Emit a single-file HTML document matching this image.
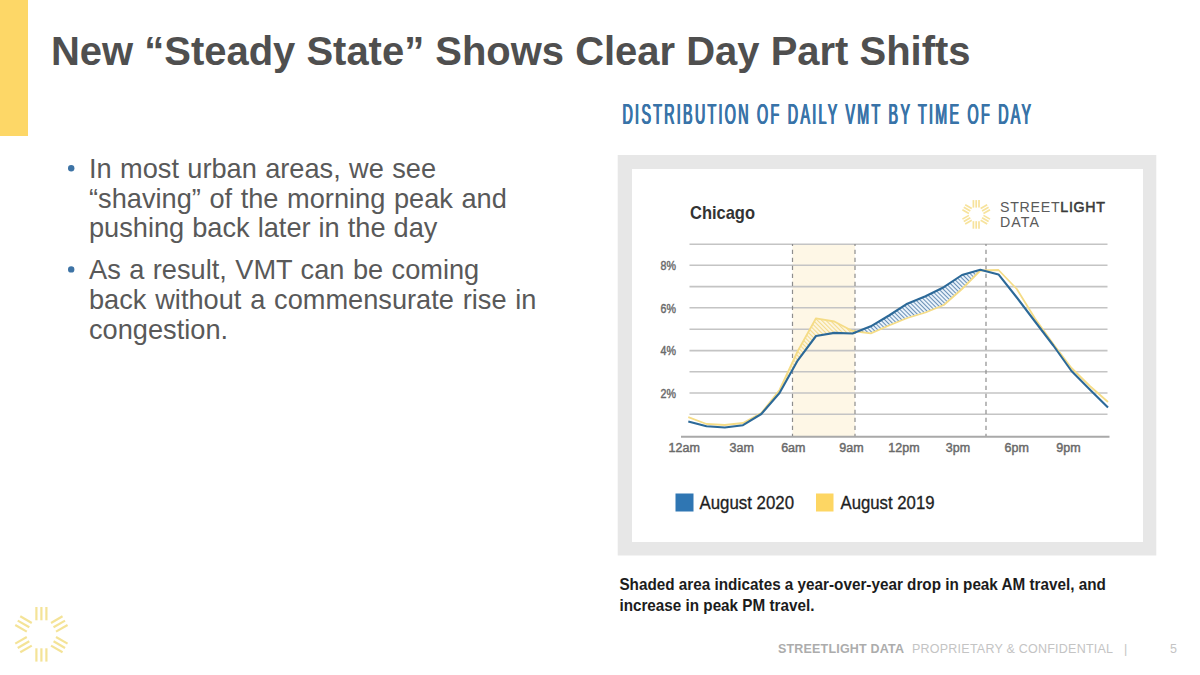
<!DOCTYPE html>
<html><head><meta charset="utf-8">
<style>
html,body{margin:0;padding:0;background:#fff;}
body{width:1200px;height:675px;overflow:hidden;position:relative;}
svg{position:absolute;left:0;top:0;}
text{font-family:"Liberation Sans", sans-serif;}
</style></head><body>
<svg width="1200" height="675" viewBox="0 0 1200 675">
<defs>
<pattern id="hb" patternUnits="userSpaceOnUse" width="3" height="3" patternTransform="rotate(-45)">
<rect width="3" height="3" fill="#eaf3fb"/><line x1="0.5" y1="0" x2="0.5" y2="3" stroke="#6a90b6" stroke-width="1.0"/>
</pattern>
<pattern id="hy" patternUnits="userSpaceOnUse" width="3" height="3" patternTransform="rotate(-45)">
<rect width="3" height="3" fill="#fdf6e0"/><line x1="0.5" y1="0" x2="0.5" y2="3" stroke="#f3da8c" stroke-width="1.1"/>
</pattern>
</defs>
<!-- left yellow bar -->
<rect x="0" y="0" width="28" height="136" fill="#fdd767"/>
<!-- title -->
<text x="51" y="64.8" font-size="41.3" font-weight="bold" fill="#4f4f4f" textLength="919.5" lengthAdjust="spacingAndGlyphs">New “Steady State” Shows Clear Day Part Shifts</text>
<!-- bullets -->
<g fill="#595959" font-size="27.2">
<circle cx="71.2" cy="168.2" r="3.2" fill="#3d73a5"/>
<text x="89" y="178" word-spacing="0.8">In most urban areas, we see</text>
<text x="89" y="207.5" word-spacing="1.05">“shaving” of the morning peak and</text>
<text x="89" y="236.8" word-spacing="0.45">pushing back later in the day</text>
<circle cx="71.2" cy="269.4" r="3.2" fill="#3d73a5"/>
<text x="89" y="279" word-spacing="0.9">As a result, VMT can be coming</text>
<text x="89" y="308.5" word-spacing="1.25">back without a commensurate rise in</text>
<text x="89" y="338.8">congestion.</text>
</g>
<!-- section heading -->
<text transform="translate(622.00,124.4) scale(0.47,1)" font-size="30.3" fill="#3873a8" letter-spacing="4.95">DISTRIBUTION OF DAILY VMT BY TIME OF DAY</text><text transform="translate(622.50,124.4) scale(0.47,1)" font-size="30.3" fill="#3873a8" letter-spacing="4.95">DISTRIBUTION OF DAILY VMT BY TIME OF DAY</text><text transform="translate(623.00,124.4) scale(0.47,1)" font-size="30.3" fill="#3873a8" letter-spacing="4.95">DISTRIBUTION OF DAILY VMT BY TIME OF DAY</text>
<!-- chart frame -->
<rect x="617.7" y="155" width="538.6" height="400.5" fill="#e7e7e7"/>
<rect x="632" y="169" width="511" height="373" fill="#ffffff"/>
<text x="690" y="219.3" font-size="18.5" font-weight="bold" fill="#333333" textLength="65" lengthAdjust="spacingAndGlyphs">Chicago</text>
<g stroke="#f7e092" stroke-width="1.70" opacity="0.90"><line x1="973.40" y1="200.10" x2="973.40" y2="207.60" transform="rotate(0 976.20 214.40)"/><line x1="976.20" y1="200.10" x2="976.20" y2="207.60" transform="rotate(0 976.20 214.40)"/><line x1="979.00" y1="200.10" x2="979.00" y2="207.60" transform="rotate(0 976.20 214.40)"/><line x1="973.40" y1="200.10" x2="973.40" y2="207.60" transform="rotate(60 976.20 214.40)"/><line x1="976.20" y1="200.10" x2="976.20" y2="207.60" transform="rotate(60 976.20 214.40)"/><line x1="979.00" y1="200.10" x2="979.00" y2="207.60" transform="rotate(60 976.20 214.40)"/><line x1="973.40" y1="200.10" x2="973.40" y2="207.60" transform="rotate(120 976.20 214.40)"/><line x1="976.20" y1="200.10" x2="976.20" y2="207.60" transform="rotate(120 976.20 214.40)"/><line x1="979.00" y1="200.10" x2="979.00" y2="207.60" transform="rotate(120 976.20 214.40)"/><line x1="973.40" y1="200.10" x2="973.40" y2="207.60" transform="rotate(180 976.20 214.40)"/><line x1="976.20" y1="200.10" x2="976.20" y2="207.60" transform="rotate(180 976.20 214.40)"/><line x1="979.00" y1="200.10" x2="979.00" y2="207.60" transform="rotate(180 976.20 214.40)"/><line x1="973.40" y1="200.10" x2="973.40" y2="207.60" transform="rotate(240 976.20 214.40)"/><line x1="976.20" y1="200.10" x2="976.20" y2="207.60" transform="rotate(240 976.20 214.40)"/><line x1="979.00" y1="200.10" x2="979.00" y2="207.60" transform="rotate(240 976.20 214.40)"/><line x1="973.40" y1="200.10" x2="973.40" y2="207.60" transform="rotate(300 976.20 214.40)"/><line x1="976.20" y1="200.10" x2="976.20" y2="207.60" transform="rotate(300 976.20 214.40)"/><line x1="979.00" y1="200.10" x2="979.00" y2="207.60" transform="rotate(300 976.20 214.40)"/></g>
<text x="1000" y="212.3" font-size="14.2" fill="#5a5a5a" textLength="105" lengthAdjust="spacing">STREET<tspan fill="#3a3a3a" stroke="#3a3a3a" stroke-width="0.55">LIGHT</tspan></text>
<text x="1000" y="226.8" font-size="14.2" fill="#5a5a5a" textLength="39" lengthAdjust="spacing">DATA</text>
<!-- shaded band -->
<rect x="792.5" y="244" width="62.5" height="192.5" fill="#fef7e6"/>
<!-- grid -->
<g stroke="#c4c4c4" stroke-width="1.6">
<line x1="689.5" y1="244.2" x2="1107.5" y2="244.2"/>
<line x1="689.5" y1="265.3" x2="1107.5" y2="265.3"/>
<line x1="689.5" y1="286.6" x2="1107.5" y2="286.6"/>
<line x1="689.5" y1="307.8" x2="1107.5" y2="307.8"/>
<line x1="689.5" y1="329.2" x2="1107.5" y2="329.2"/>
<line x1="689.5" y1="350.6" x2="1107.5" y2="350.6"/>
<line x1="689.5" y1="371.8" x2="1107.5" y2="371.8"/>
<line x1="689.5" y1="393.0" x2="1107.5" y2="393.0"/>
<line x1="689.5" y1="414.2" x2="1107.5" y2="414.2"/>
</g>
<line x1="681" y1="436.8" x2="1109.5" y2="436.8" stroke="#a9a9a9" stroke-width="2"/>
<g stroke="#8e8e8e" stroke-width="1.2" stroke-dasharray="4.4 3.6" stroke-dashoffset="2.3">
<line x1="792.5" y1="244" x2="792.5" y2="436"/>
<line x1="855" y1="244" x2="855" y2="436"/>
<line x1="986" y1="244" x2="986" y2="436"/>
</g>
<!-- hatched areas -->
<polygon points="761.3,413.0 779.5,390.0 797.8,351.0 816.0,318.3 834.3,321.5 852.5,331.0 852.5,333.5 834.3,332.9 816.0,336.0 797.8,360.3 779.5,393.0 761.3,414.0" fill="url(#hy)"/>
<polygon points="852.5,333.5 870.8,326.3 889.0,315.5 907.3,303.7 925.5,296.3 943.8,287.2 962.0,275.0 980.3,269.8 980.3,270.5 962.0,289.0 943.8,305.0 925.5,312.5 907.3,318.0 889.0,325.5 870.8,333.3 852.5,331.0" fill="url(#hb)"/>
<!-- lines -->
<polyline points="688.3,417.2 706.5,424.0 724.8,425.0 743.0,423.0 761.3,413.0 779.5,390.0 797.8,351.0 816.0,318.3 834.3,321.5 852.5,331.0 870.8,333.3 889.0,325.5 907.3,318.0 925.5,312.5 943.8,305.0 962.0,289.0 980.3,270.5 998.5,270.0 1016.8,289.0 1035.0,318.5 1053.3,344.0 1071.5,368.0 1089.8,386.0 1108.0,402.0" fill="none" stroke="#f5dc86" stroke-width="1.8" stroke-linejoin="round"/>
<polyline points="688.3,421.5 706.5,426.2 724.8,427.5 743.0,425.2 761.3,414.0 779.5,393.0 797.8,360.3 816.0,336.0 834.3,332.9 852.5,333.5 870.8,326.3 889.0,315.5 907.3,303.7 925.5,296.3 943.8,287.2 962.0,275.0 980.3,269.8 998.5,274.4 1016.8,297.5 1035.0,321.5 1053.3,345.5 1071.5,371.0 1089.8,389.4 1108.0,407.4" fill="none" stroke="#2c6998" stroke-width="2.1" stroke-linejoin="round"/>
<!-- y labels -->
<g font-size="12.8" fill="#6a6a6a" stroke="#6a6a6a" stroke-width="0.45">
<text x="660.6" y="270" textLength="15.4" lengthAdjust="spacingAndGlyphs">8%</text>
<text x="660.6" y="312.6" textLength="15.4" lengthAdjust="spacingAndGlyphs">6%</text>
<text x="660.6" y="355.2" textLength="15.4" lengthAdjust="spacingAndGlyphs">4%</text>
<text x="660.6" y="397.8" textLength="15.4" lengthAdjust="spacingAndGlyphs">2%</text>
</g>
<!-- x labels -->
<g font-size="12.5" fill="#6a6a6a" stroke="#6a6a6a" stroke-width="0.45" text-anchor="middle">
<text x="684.2" y="452.3">12am</text>
<text x="741.7" y="452.3">3am</text>
<text x="793.3" y="452.3">6am</text>
<text x="851.5" y="452.3">9am</text>
<text x="904" y="452.3">12pm</text>
<text x="958" y="452.3">3pm</text>
<text x="1016.7" y="452.3">6pm</text>
<text x="1068.5" y="452.3">9pm</text>
</g>
<!-- legend -->
<rect x="675.5" y="493.5" width="18" height="18" fill="#2f76b3"/>
<text x="699.5" y="508.5" font-size="17.5" fill="#1e1e1e" stroke="#1e1e1e" stroke-width="0.3" textLength="94.5" lengthAdjust="spacingAndGlyphs">August 2020</text>
<rect x="816" y="493.5" width="17.5" height="18" fill="#fdd663"/>
<text x="840.5" y="508.5" font-size="17.5" fill="#1e1e1e" stroke="#1e1e1e" stroke-width="0.3" textLength="94" lengthAdjust="spacingAndGlyphs">August 2019</text>
<!-- caption -->
<g font-size="15.7" font-weight="bold" fill="#1c1c1c">
<text x="619.4" y="590.2" textLength="486.5" lengthAdjust="spacingAndGlyphs">Shaded area indicates a year-over-year drop in peak AM travel, and</text>
<text x="619.4" y="610.8" textLength="195" lengthAdjust="spacingAndGlyphs">increase in peak PM travel.</text>
</g>
<!-- footer -->
<text x="778" y="652.5" font-size="12.5" font-weight="bold" fill="#acacac" textLength="126" lengthAdjust="spacing">STREETLIGHT DATA</text>
<text x="912" y="652.5" font-size="12.5" fill="#c4c4c4" textLength="201" lengthAdjust="spacing">PROPRIETARY &amp; CONFIDENTIAL</text>
<text x="1124" y="652.5" font-size="12.5" fill="#c4c4c4">|</text>
<text x="1170" y="652.5" font-size="12.5" fill="#c4c4c4">5</text>
<!-- bottom-left logo -->
<g stroke="#f3df86" stroke-width="2.20" opacity="0.85"><line x1="36.40" y1="607.00" x2="36.40" y2="620.30" transform="rotate(0 41.40 634.30)"/><line x1="41.40" y1="607.00" x2="41.40" y2="620.30" transform="rotate(0 41.40 634.30)"/><line x1="46.40" y1="607.00" x2="46.40" y2="620.30" transform="rotate(0 41.40 634.30)"/><line x1="36.40" y1="607.00" x2="36.40" y2="620.30" transform="rotate(60 41.40 634.30)"/><line x1="41.40" y1="607.00" x2="41.40" y2="620.30" transform="rotate(60 41.40 634.30)"/><line x1="46.40" y1="607.00" x2="46.40" y2="620.30" transform="rotate(60 41.40 634.30)"/><line x1="36.40" y1="607.00" x2="36.40" y2="620.30" transform="rotate(120 41.40 634.30)"/><line x1="41.40" y1="607.00" x2="41.40" y2="620.30" transform="rotate(120 41.40 634.30)"/><line x1="46.40" y1="607.00" x2="46.40" y2="620.30" transform="rotate(120 41.40 634.30)"/><line x1="36.40" y1="607.00" x2="36.40" y2="620.30" transform="rotate(180 41.40 634.30)"/><line x1="41.40" y1="607.00" x2="41.40" y2="620.30" transform="rotate(180 41.40 634.30)"/><line x1="46.40" y1="607.00" x2="46.40" y2="620.30" transform="rotate(180 41.40 634.30)"/><line x1="36.40" y1="607.00" x2="36.40" y2="620.30" transform="rotate(240 41.40 634.30)"/><line x1="41.40" y1="607.00" x2="41.40" y2="620.30" transform="rotate(240 41.40 634.30)"/><line x1="46.40" y1="607.00" x2="46.40" y2="620.30" transform="rotate(240 41.40 634.30)"/><line x1="36.40" y1="607.00" x2="36.40" y2="620.30" transform="rotate(300 41.40 634.30)"/><line x1="41.40" y1="607.00" x2="41.40" y2="620.30" transform="rotate(300 41.40 634.30)"/><line x1="46.40" y1="607.00" x2="46.40" y2="620.30" transform="rotate(300 41.40 634.30)"/></g>
</svg>
</body></html>
